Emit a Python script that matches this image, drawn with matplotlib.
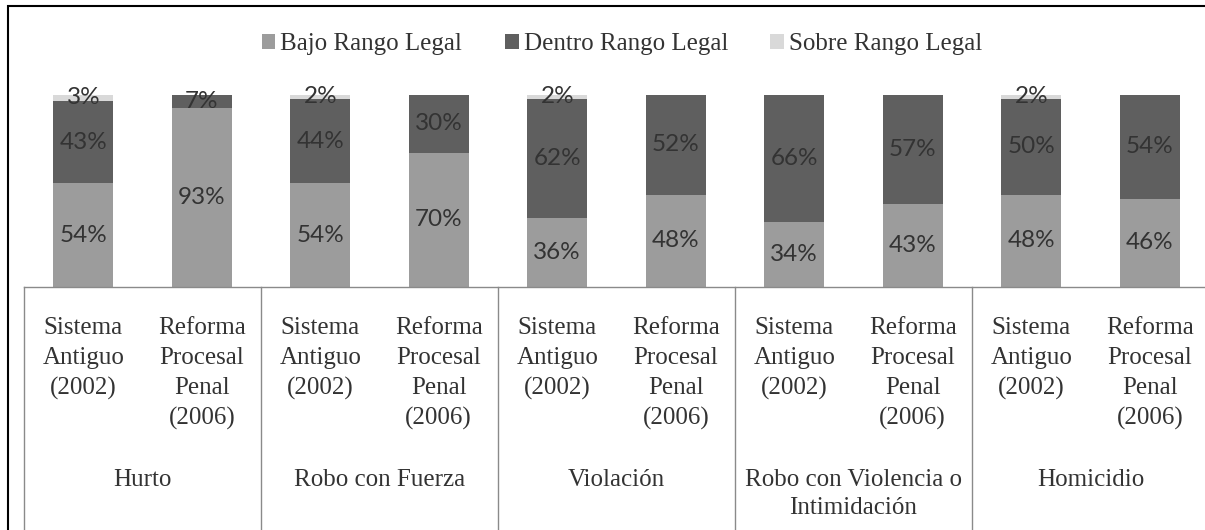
import matplotlib.pyplot as plt
import matplotlib.patches as mpatches
import numpy as np

# data (percent of sentences)
groups = ['Hurto', 'Robo con Fuerza', 'Violación',
          'Robo con Violencia o\nIntimidación', 'Homicidio']
systems = ['Sistema\nAntiguo\n(2002)', 'Reforma\nProcesal\nPenal\n(2006)']
series_names = ['Bajo Rango Legal', 'Dentro Rango Legal', 'Sobre Rango Legal']
bajo = [54, 93, 54, 70, 36, 48, 34, 43, 48, 46]
dentro = [43, 7, 44, 30, 62, 52, 66, 57, 50, 54]
sobre = [3, 0, 2, 0, 2, 0, 0, 0, 2, 0]

colors = ['#9c9c9c', '#5f5f5f', '#d9d9d9']
serif = 'Liberation Serif'
sans = 'Lato'
txt_color = '#333333'

W, H = 1205, 530
fig = plt.figure(figsize=(W / 100, H / 100), dpi=100)

# plot area in pixels: x 24..1209, y 95..287 (from top)
x0, x1, ytop, ybot = 24, 1209, 95, 287
ax = fig.add_axes([x0 / W, 1 - ybot / H, (x1 - x0) / W, (ybot - ytop) / H])

n = len(bajo)
x = np.arange(n)
values = [np.array(bajo), np.array(dentro), np.array(sobre)]
bottom = np.zeros(n)
for name, vals, col in zip(series_names, values, colors):
    ax.bar(x, vals, 0.51, bottom=bottom, color=col, label=name)
    for xi, b, v in zip(x, bottom, vals):
        if v > 0:
            ax.text(xi, b + v / 2, f'{v}%', ha='center', va='center',
                    fontsize=17.5, family=sans, color=txt_color)
    bottom = bottom + vals

ax.set_xlim(-0.5, n - 0.5)
ax.set_ylim(0, 100)
ax.axis('off')

# table-like category axis below the bars
trans = ax.get_xaxis_transform()
ax_h = ybot - ytop
line_col = '#8a8a8a'
ax.plot([0, 1], [0, 0], transform=ax.transAxes, color=line_col, lw=1, clip_on=False)
for b in np.arange(-0.5, n, 2):
    ax.plot([b, b], [0, -300 / ax_h], transform=trans, color=line_col, lw=1, clip_on=False)

for i in range(n):
    ax.text(i, -(317 - ybot) / ax_h, systems[i % 2], transform=trans, ha='center', va='top',
            fontsize=18, family=serif, color=txt_color, linespacing=1.47, multialignment='center')
for g, name in enumerate(groups):
    ax.text(2 * g + 0.5, -(469 - ybot) / ax_h, name, transform=trans, ha='center', va='top',
            fontsize=18, family=serif, color=txt_color, linespacing=1.38, multialignment='center')

# legend on top
fig.legend(loc='center', bbox_to_anchor=(622 / W, 1 - 44 / H), ncol=3, frameon=False,
           prop={'family': serif, 'size': 18}, handlelength=0.55, handleheight=0.55,
           handletextpad=0.2, columnspacing=1.7, labelcolor=txt_color)

# outer frame
fig.patches.append(mpatches.Rectangle((8 / W, -0.1), 1.2, 1.1 - 6 / H, transform=fig.transFigure,
                                      fill=False, edgecolor='black', lw=1.5))

fig.savefig('out.png', dpi=100)
